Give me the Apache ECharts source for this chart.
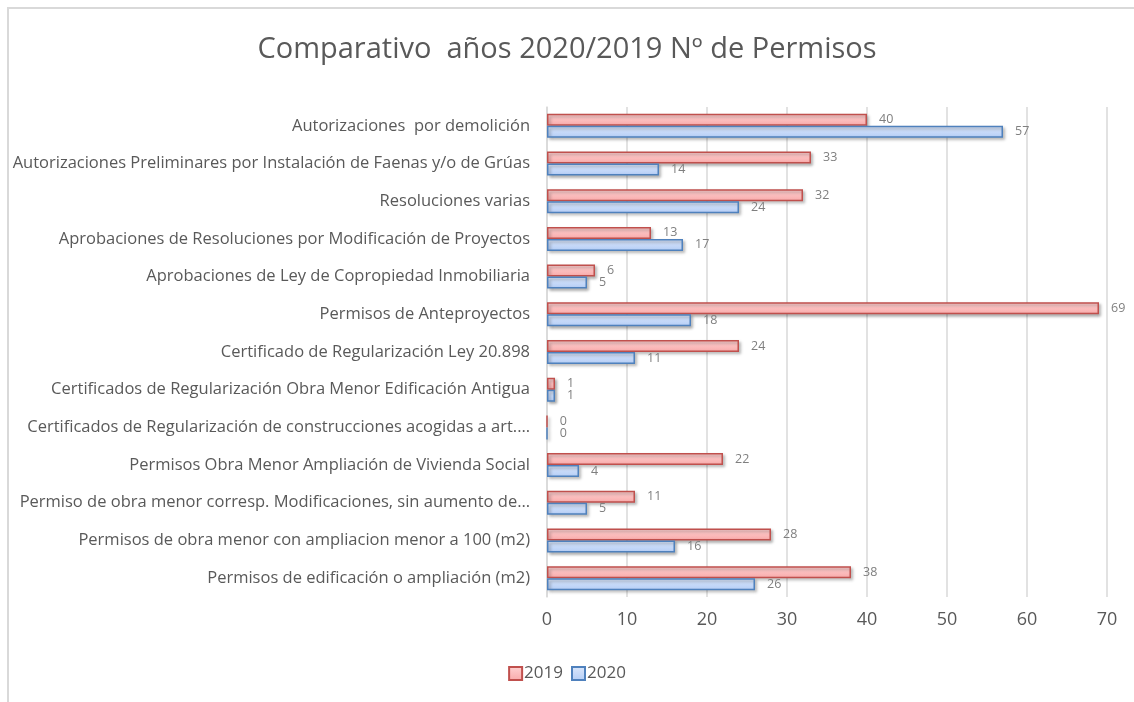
<!DOCTYPE html>
<html>
<head>
<meta charset="utf-8">
<script src="https://cdn.jsdelivr.net/npm/echarts@6/dist/echarts.min.js"></script>
<style>
  html, body { margin: 0; padding: 0; background: #fff; }
  #frame { position: absolute; left: 7px; top: 7px; width: 1200px; height: 800px;
           border-left: 2px solid #d9d9d9; border-top: 2px solid #d9d9d9; }
  #container { position: absolute; left: 0; top: 0; width: 1134px; height: 702px; }
</style>
</head>
<body>
<div id="frame"></div>
<div id="container"></div>
<script>
// datos
var categorias = [
    'Autorizaciones  por demolición',
    'Autorizaciones Preliminares por Instalación de Faenas y/o de Grúas',
    'Resoluciones varias',
    'Aprobaciones de Resoluciones por Modificación de Proyectos',
    'Aprobaciones de Ley de Copropiedad Inmobiliaria',
    'Permisos de Anteproyectos',
    'Certificado de Regularización Ley 20.898',
    'Certificados de Regularización Obra Menor Edificación Antigua',
    'Certificados de Regularización de construcciones acogidas a art.…',
    'Permisos Obra Menor Ampliación de Vivienda Social',
    'Permiso de obra menor corresp. Modificaciones, sin aumento de…',
    'Permisos de obra menor con ampliacion menor a 100 (m2)',
    'Permisos de edificación o ampliación (m2)'
];
var v2019 = [40, 33, 32, 13, 6, 69, 24, 1, 0, 22, 11, 28, 38];
var v2020 = [57, 14, 24, 17, 5, 18, 11, 1, 0, 4, 5, 16, 26];
var ticksX = [0, 10, 20, 30, 40, 50, 60, 70];

var fuente = 'Open Sans';
var gris = '#595959';

function relleno(arriba, abajo) {
    return new echarts.graphic.LinearGradient(0, 0, 0, 1, [
        { offset: 0, color: arriba },
        { offset: 1, color: abajo }
    ]);
}

var dom = document.getElementById("container");
var myChart = echarts.init(dom);
var option = {
    textStyle: { fontFamily: fuente },
    title: {
        text: 'Comparativo  años 2020/2019 Nº de Permisos',
        left: 'center',
        top: 30,
        textStyle: { fontFamily: fuente, fontSize: 29, fontWeight: 'normal', color: gris }
    },
    legend: {
        bottom: 15,
        left: 'center',
        icon: 'rect',
        itemWidth: 13,
        itemHeight: 13,
        itemGap: 8,
        textStyle: { fontFamily: fuente, fontSize: 17, color: gris, padding: [0, 0, 0, -3] },
        data: ['2019', '2020']
    },
    grid: { left: 547, right: 27, top: 107, bottom: 105 },
    xAxis: {
        type: 'value',
        min: ticksX[0],
        max: ticksX[ticksX.length - 1],
        interval: 10,
        axisLine: { show: false },
        axisTick: { show: false },
        splitLine: { lineStyle: { color: '#d9d9d9', width: 1.5 } },
        axisLabel: { fontFamily: fuente, fontSize: 18, color: gris, margin: 14 }
    },
    yAxis: {
        type: 'category',
        inverse: true,
        data: categorias,
        axisLine: { show: true, lineStyle: { color: '#d9d9d9', width: 1.5 } },
        axisTick: { show: false },
        axisLabel: { fontFamily: fuente, fontSize: 16.5, color: gris, margin: 17 }
    },
    series: [
        {
            name: '2019',
            type: 'bar',
            data: v2019,
            barWidth: 12,
            barGap: '0%',
            itemStyle: {
                color: relleno('#ffd3d3', '#f8a9a9'),
                borderColor: '#c0504d',
                borderWidth: 1.5,
                shadowColor: 'rgba(0,0,0,0.3)',
                shadowBlur: 3,
                shadowOffsetX: 2,
                shadowOffsetY: 2
            },
            label: { show: true, position: 'right', distance: 12, fontSize: 12.5, color: '#7f7f7f', fontFamily: fuente }
        },
        {
            name: '2020',
            type: 'bar',
            data: v2020,
            barWidth: 12,
            itemStyle: {
                color: relleno('#dbe7fb', '#b4cdf6'),
                borderColor: '#4f81bd',
                borderWidth: 1.5,
                shadowColor: 'rgba(0,0,0,0.3)',
                shadowBlur: 3,
                shadowOffsetX: 2,
                shadowOffsetY: 2
            },
            label: { show: true, position: 'right', distance: 12, fontSize: 12.5, color: '#7f7f7f', fontFamily: fuente }
        }
    ]
};
myChart.setOption(option, true);
</script>
</body>
</html>
